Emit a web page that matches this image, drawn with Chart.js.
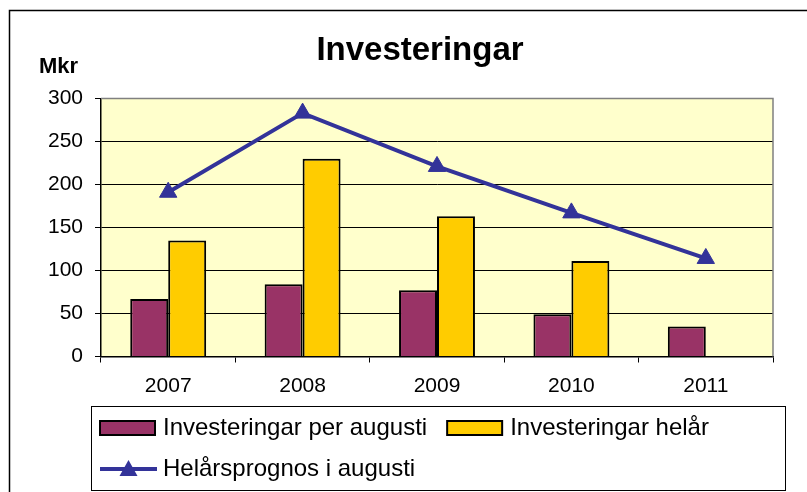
<!DOCTYPE html>
<html>
<head>
<meta charset="utf-8">
<script src="https://cdn.jsdelivr.net/npm/chart.js@4.4.1/dist/chart.umd.min.js"></script>
<style>
  body { margin: 0; background: #fff; }
  #wrap { width: 807px; height: 492px; position: relative; }
</style>
</head>
<body>
<div id="wrap"><canvas id="investChart"></canvas></div>
<script>
// data (Mkr)
const years = ["2007", "2008", "2009", "2010", "2011"];
const perAugusti = [67, 84, 77, 49, 35];
const helar = [135, 230, 163, 111, null];
const prognos = [191, 283, 221, 167, 114];
const yMin = 0, yMax = 300, yStep = 50;

const FONT = "'Liberation Sans', Arial, sans-serif";
Chart.defaults.font.family = FONT;
Chart.defaults.color = "#000";

// yellow plot background + grey top/right edge
const plotFrame = {
  id: "plotFrame",
  beforeDraw(chart) {
    const { ctx, chartArea: a } = chart;
    ctx.save();
    ctx.fillStyle = "#FFFFCC";
    ctx.fillRect(a.left, a.top, a.right - a.left, a.bottom - a.top);
    ctx.restore();
  },
  beforeDatasetsDraw(chart) {
    const { ctx, chartArea: a } = chart;
    ctx.save();
    ctx.strokeStyle = "#808080";
    ctx.lineWidth = 1.5;
    ctx.beginPath();
    ctx.moveTo(a.left, a.top);
    ctx.lineTo(a.right, a.top);
    ctx.lineTo(a.right, a.bottom);
    ctx.stroke();
    ctx.restore();
  }
};

// title, unit label, outer frame and the boxed legend
const decorations = {
  id: "decorations",
  afterDraw(chart) {
    const ctx = chart.ctx;
    const ds = chart.data.datasets;
    ctx.save();

    // outer frame (only left and top edges are visible)
    ctx.strokeStyle = "#000";
    ctx.lineWidth = 1.5;
    ctx.beginPath();
    ctx.moveTo(9.5, 492);
    ctx.lineTo(9.5, 10.5);
    ctx.lineTo(807, 10.5);
    ctx.stroke();

    ctx.fillStyle = "#000";
    ctx.textBaseline = "alphabetic";
    ctx.textAlign = "center";
    ctx.font = "bold 33px " + FONT;
    ctx.fillText("Investeringar", 420, 60);
    ctx.textAlign = "left";
    ctx.font = "bold 22px " + FONT;
    ctx.fillText("Mkr", 39, 73);

    // legend box
    ctx.lineWidth = 1;
    ctx.strokeStyle = "#000";
    ctx.strokeRect(91.5, 406.5, 694, 84);

    ctx.font = "24px " + FONT;
    ctx.textBaseline = "middle";
    let x = 100;
    const row1 = 428;
    [ds[0], ds[1]].forEach((d) => {
      ctx.fillStyle = d.backgroundColor;
      ctx.fillRect(x, row1 - 7, 55, 14);
      ctx.lineWidth = 2;
      ctx.strokeStyle = "#000";
      ctx.strokeRect(x, row1 - 7, 55, 14);
      ctx.fillStyle = "#000";
      ctx.fillText(d.label, x + 63, row1);
      x += 63 + ctx.measureText(d.label).width + 20;
    });

    const row2 = 469;
    const ln = ds[2];
    ctx.strokeStyle = ln.borderColor;
    ctx.lineWidth = 4;
    ctx.beginPath();
    ctx.moveTo(100, row2);
    ctx.lineTo(157, row2);
    ctx.stroke();
    ctx.fillStyle = ln.pointBackgroundColor;
    ctx.beginPath();
    ctx.moveTo(128.5, row2 - 9);
    ctx.lineTo(137.5, row2 + 7);
    ctx.lineTo(119.5, row2 + 7);
    ctx.closePath();
    ctx.fill();
    ctx.fillStyle = "#000";
    ctx.fillText(ln.label, 163, row2);

    ctx.restore();
  }
};

new Chart(document.getElementById("investChart"), {
  type: "bar",
  data: {
    labels: years,
    datasets: [
      {
        label: "Investeringar per augusti",
        data: perAugusti,
        backgroundColor: "#993366",
        borderColor: "#000",
        borderWidth: 2,
        order: 1
      },
      {
        label: "Investeringar helår",
        data: helar,
        backgroundColor: "#FFCC00",
        borderColor: "#000",
        borderWidth: 2,
        order: 1
      },
      {
        type: "line",
        label: "Helårsprognos i augusti",
        data: prognos,
        borderColor: "#333399",
        borderWidth: 4,
        pointStyle: "triangle",
        pointRadius: 10,
        pointBackgroundColor: "#333399",
        pointBorderColor: "#333399",
        pointBorderWidth: 1,
        tension: 0,
        order: 0
      }
    ]
  },
  options: {
    responsive: true,
    maintainAspectRatio: false,
    animation: false,
    datasets: {
      bar: { categoryPercentage: 0.565, barPercentage: 1 }
    },
    layout: { padding: { left: 0, right: 34, top: 98.5, bottom: 95.5 } },
    plugins: {
      legend: { display: false },
      tooltip: { enabled: false }
    },
    scales: {
      x: {
        offset: true,
        grid: { drawOnChartArea: false, color: "#000", tickLength: 6, offset: true },
        border: { color: "#000", width: 1.5 },
        ticks: { font: { size: 21 }, color: "#000", padding: 11 },
        afterFit: (s) => { s.height = 40; }
      },
      y: {
        min: yMin,
        max: yMax,
        grid: {
          color: (c) => (c.tick && c.tick.value === yMax ? "rgba(0,0,0,0)" : "#000"),
          tickColor: "#000",
          tickLength: 6
        },
        border: { color: "#000", width: 1.5 },
        ticks: { stepSize: yStep, font: { size: 21 }, color: "#000", padding: 12 },
        afterFit: (s) => { s.width = 101; }
      }
    }
  },
  plugins: [plotFrame, decorations]
});
</script>
</body>
</html>
